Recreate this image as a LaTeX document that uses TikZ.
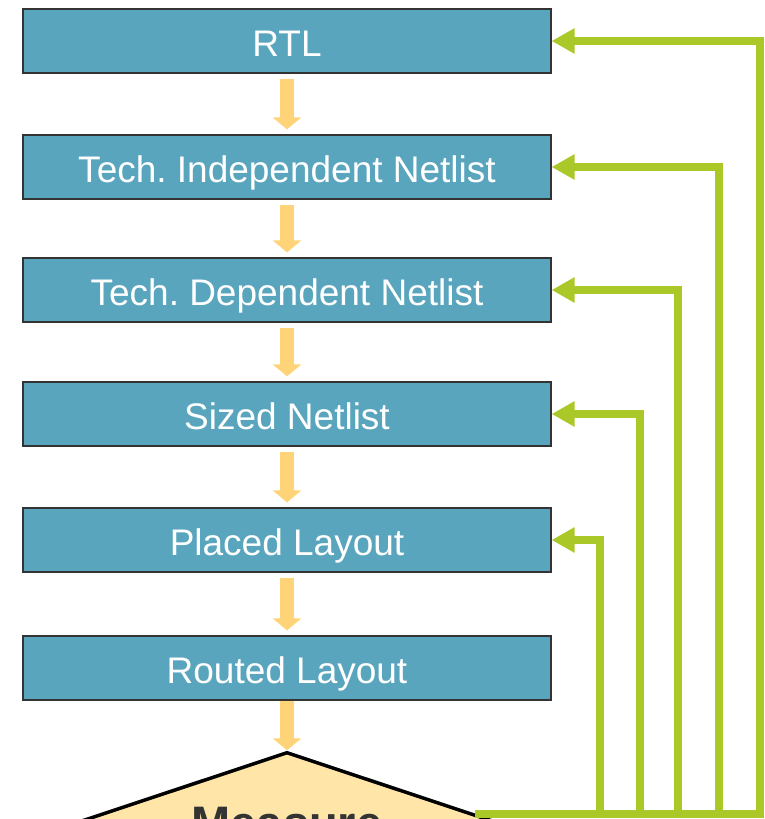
\documentclass[tikz,border=0pt]{standalone}
\usepackage{fontspec}
\setmainfont{Liberation Sans}
\usetikzlibrary{arrows.meta, shapes.geometric}
\frenchspacing

\definecolor{stagefill}{HTML}{5AA5BE}
\definecolor{flowarrow}{HTML}{FFD479}
\definecolor{loopgreen}{HTML}{ABC829}
\definecolor{checkfill}{HTML}{FFE6A8}

\begin{document}
\begin{tikzpicture}[x=1pt, y=-1pt,
    stage/.style={draw=black!80, line width=1.2pt, fill=stagefill, text=white,
      minimum width=528pt, minimum height=64pt, inner sep=0pt,
      text height=30pt, text depth=0pt,
      font=\fontsize{37}{44}\selectfont},
    flow/.style={flowarrow, line width=14pt, -{Triangle[width=28pt, length=12pt]}},
    feedback/.style={loopgreen, line width=8pt, -{Triangle[width=24pt, length=23pt]}}]
  \useasboundingbox (0, 0) rectangle (764, 819);
  \clip (0, 0) rectangle (764, 819);

  % design stages
  \node[stage] (rtl) at (287, 41) {RTL};
  \node[stage] (tind) at (287, 167) {Tech. Independent Netlist};
  \node[stage] (tdep) at (287, 290) {Tech. Dependent Netlist};
  \node[stage] (sized) at (287, 414) {Sized Netlist};
  \node[stage] (placed) at (287, 540) {Placed Layout};
  \node[stage] (routed) at (287, 668) {Routed Layout};
  \node[diamond, draw=black, line width=3.5pt, fill=checkfill, aspect=3,
    minimum width=430pt, minimum height=144pt, inner sep=0pt, text=black!80,
    font=\fontsize{47}{56}\selectfont\bfseries] (measure) at (287, 824) {Measure};

  % forward flow
  \draw[flow, shorten <=5pt, shorten >=5pt] (rtl) -- (tind);
  \draw[flow, shorten <=5pt, shorten >=5pt] (tind) -- (tdep);
  \draw[flow, shorten <=5pt, shorten >=5pt] (tdep) -- (sized);
  \draw[flow, shorten <=5pt, shorten >=5pt] (sized) -- (placed);
  \draw[flow, shorten <=5pt, shorten >=5pt] (placed) -- (routed);
  \draw[flow] (routed) -- (measure);

  % loops back from the measurement
  \draw[feedback] (measure.3) -| ([xshift=208pt]rtl.east) -- (rtl.east);
  \draw[feedback] (measure.3) -| ([xshift=167pt]tind.east) -- (tind.east);
  \draw[feedback] (measure.3) -| ([xshift=126pt]tdep.east) -- (tdep.east);
  \draw[feedback] (measure.3) -| ([xshift=88pt]sized.east) -- (sized.east);
  \draw[feedback] (measure.3) -| ([xshift=48pt]placed.east) -- (placed.east);
\end{tikzpicture}
\end{document}
